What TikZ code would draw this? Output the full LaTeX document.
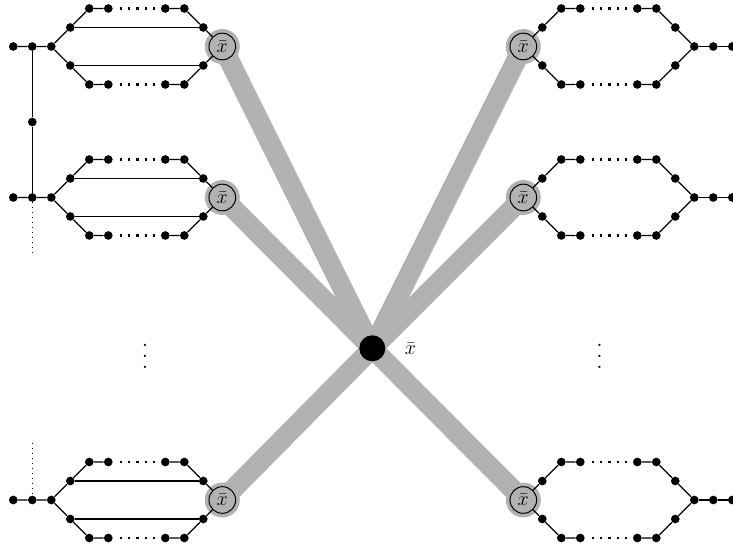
\documentclass[tikz,border=0pt]{standalone}
\usepackage{graphicx}
\definecolor{bandgray}{gray}{0.7}
\tikzset{
  dot/.style={circle, fill=black, inner sep=0pt, minimum size=5.2pt},
  xb/.style={circle, draw=black, line width=0.6pt, inner sep=0pt, minimum size=16pt, font=\fontsize{12}{14}\selectfont},
  halo/.style={circle, fill=bandgray, inner sep=0pt, minimum size=21pt},
  hub/.style={circle, fill=black, inner sep=0pt, minimum size=15.6pt},
  band/.style={line width=12pt, draw=bandgray},
  edge/.style={line width=0.7pt},
  hdots/.style={line width=1.4pt, dash pattern=on 1.4pt off 3.6pt, shorten <=4.1pt, shorten >=2pt},
  vdots/.style={line width=0.6pt, dash pattern=on 0.6pt off 2.4pt},
  vdot/.style={inner sep=0pt, font=\fontsize{14}{14}\selectfont},
}
\newcommand{\LG}[2]{%
  \node[dot] (#1a) at (13.3,#2) {};
  \node[dot] (#1b) at (32.3,#2) {};
  \node[dot] (#1c) at (51.3,#2) {};
  \node[dot] (#1u1) at (70.3,{#2-19}) {};
  \node[dot] (#1u2) at (89.3,{#2-38}) {};
  \node[dot] (#1u3) at (108.3,{#2-38}) {};
  \node[dot] (#1u4) at (165.3,{#2-38}) {};
  \node[dot] (#1u5) at (184.3,{#2-38}) {};
  \node[dot] (#1u6) at (203.3,{#2-19}) {};
  \node[dot] (#1d1) at (70.3,{#2+19}) {};
  \node[dot] (#1d2) at (89.3,{#2+38}) {};
  \node[dot] (#1d3) at (108.3,{#2+38}) {};
  \node[dot] (#1d4) at (165.3,{#2+38}) {};
  \node[dot] (#1d5) at (184.3,{#2+38}) {};
  \node[dot] (#1d6) at (203.3,{#2+19}) {};
  \node[xb] (#1x) at (#1) {$\bar{x}$};
  \draw[edge] (#1a) -- (#1b) -- (#1c) -- (#1u1) -- (#1u2) -- (#1u3);
  \draw[edge] (#1u4) -- (#1u5) -- (#1u6) -- (#1x);
  \draw[edge] (#1c) -- (#1d1) -- (#1d2) -- (#1d3);
  \draw[edge] (#1d4) -- (#1d5) -- (#1d6) -- (#1x);
  \draw[hdots] (#1u3) -- (#1u4);
  \draw[hdots] (#1d3) -- (#1d4);
  \draw[edge] (#1u1) -- (#1u6);
  \draw[edge] (#1d1) -- (#1d6);
}
\newcommand{\RG}[2]{%
  \node[xb] (#1x) at (#1) {$\bar{x}$};
  \node[dot] (#1u1) at (542.3,{#2-19}) {};
  \node[dot] (#1u2) at (561.3,{#2-38}) {};
  \node[dot] (#1u3) at (580.3,{#2-38}) {};
  \node[dot] (#1u4) at (637.3,{#2-38}) {};
  \node[dot] (#1u5) at (656.3,{#2-38}) {};
  \node[dot] (#1u6) at (675.3,{#2-19}) {};
  \node[dot] (#1d1) at (542.3,{#2+19}) {};
  \node[dot] (#1d2) at (561.3,{#2+38}) {};
  \node[dot] (#1d3) at (580.3,{#2+38}) {};
  \node[dot] (#1d4) at (637.3,{#2+38}) {};
  \node[dot] (#1d5) at (656.3,{#2+38}) {};
  \node[dot] (#1d6) at (675.3,{#2+19}) {};
  \node[dot] (#1m) at (694.3,#2) {};
  \node[dot] (#1e1) at (713.3,#2) {};
  \node[dot] (#1e2) at (732.3,#2) {};
  \draw[edge] (#1x) -- (#1u1) -- (#1u2) -- (#1u3);
  \draw[edge] (#1u4) -- (#1u5) -- (#1u6) -- (#1m);
  \draw[edge] (#1x) -- (#1d1) -- (#1d2) -- (#1d3);
  \draw[edge] (#1d4) -- (#1d5) -- (#1d6) -- (#1m);
  \draw[edge] (#1m) -- (#1e1) -- (#1e2);
  \draw[hdots] (#1u3) -- (#1u4);
  \draw[hdots] (#1d3) -- (#1d4);
}
\begin{document}
\begin{tikzpicture}[x=0.6pt,y=-0.6pt]
\useasboundingbox (0,0) rectangle (733,548);
\coordinate (C) at (372.3,348.3);
\coordinate (L1) at (222.3,46.5);
\coordinate (L2) at (222.3,197.5);
\coordinate (L3) at (222.3,500);
\coordinate (R1) at (523.3,46.5);
\coordinate (R2) at (523.3,197.5);
\coordinate (R3) at (523.3,500);
\foreach \p in {L1,L2,L3,R1,R2,R3} \draw[band] (\p) -- (C);
\foreach \p in {L1,L2,L3,R1,R2,R3} \node[halo] (h\p) at (\p) {};
\node[hub] (c) at (C) {};
\node[font=\fontsize{12}{14}\selectfont] (cl) at (410.5,348.5) {$\bar{x}$};
\LG{L1}{46.5}
\LG{L2}{197.5}
\LG{L3}{500}
\RG{R1}{46.5}
\RG{R2}{197.5}
\RG{R3}{500}
\node[dot] (vm) at (32.3,122) {};
\draw[edge] (L1b) -- (vm) -- (L2b);
\coordinate (v1) at (32.3,254);
\coordinate (v2) at (32.3,443);
\draw[vdots] (L2b) -- (v1);
\draw[vdots] (v2) -- (L3b);
\foreach \yy/\n in {345.7/1,356.5/2,367.3/3} {
  \node[vdot] (ld\n) at (145,\yy) {.};
  \node[vdot] (rd\n) at (599.5,\yy) {.};
}
\end{tikzpicture}
\end{document}
